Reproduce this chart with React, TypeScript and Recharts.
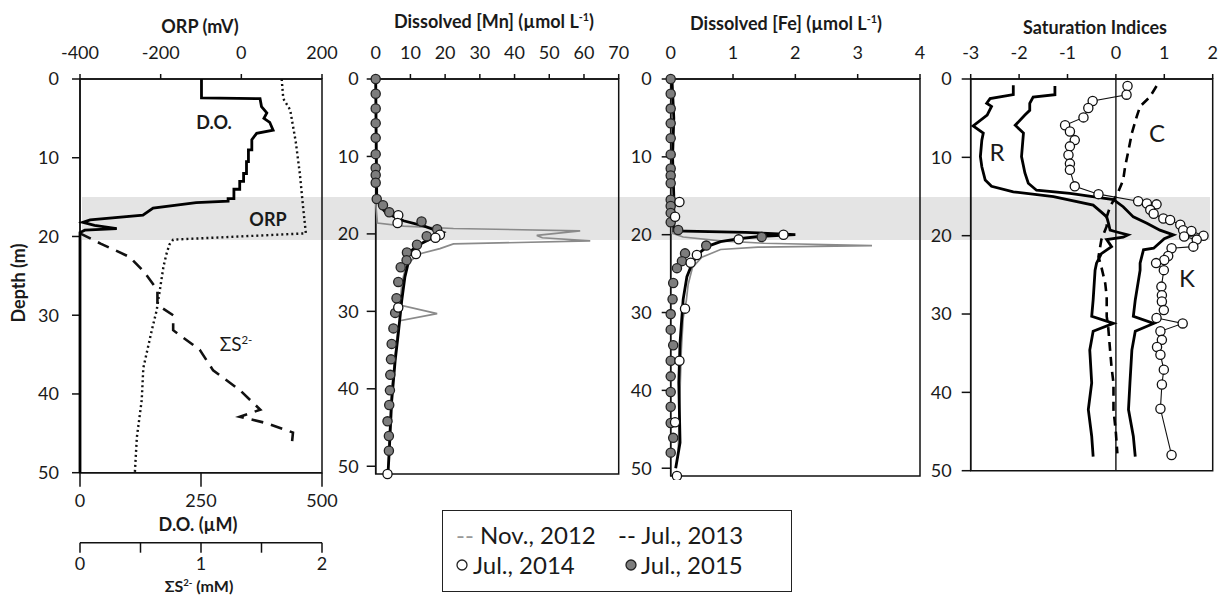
import React from "react";
import {
  ComposedChart,
  Scatter,
  XAxis,
  YAxis,
  ReferenceArea,
  ReferenceLine,
} from "recharts";

const FONT = "Lato, 'Open Sans', sans-serif";
const INK = "#1a1a1a";

// ---- panel 1: D.O. (uM), ORP (mV), sulfide (mM) vs depth (m)
const doDepth = [0, 2.4, 2.5, 3.5, 4.3, 5.0, 5.5, 6.5, 6.9, 7.7, 9.0, 9.0, 10.5, 10.5, 12.0, 12.0, 13.0, 13.0, 14.0, 14.0, 15.2, 15.2, 15.5, 15.7, 16.4, 17.3, 17.9, 18.2, 18.6, 19.0, 19.2, 19.5, 50];
const doValue = [251, 251, 372, 375, 386, 380, 392, 399, 365, 355, 355, 348, 348, 344, 344, 338, 338, 330, 330, 318, 318, 306, 306, 240, 151, 130, 21, 6, 30, 76, 10, 0, 0];
const orpDepth = [0, 2.5, 3.9, 8, 12, 16.2, 19.6, 20.4, 21.0, 22.1, 23.8, 26.8, 29.4, 31.9, 36.7, 40.8, 45.5, 50];
const orpValue = [100, 104, 121, 135, 145, 153, 160, -169, -178, -185, -193, -202, -210, -222, -243, -247, -259, -264];
const sDepth = [19.6, 20.9, 22.6, 24.5, 26.8, 28.7, 30, 31.9, 34.4, 37, 39.5, 42, 42.9, 43.7, 44.9, 46.5];
const sValue = [0, 0.17, 0.41, 0.53, 0.64, 0.64, 0.77, 0.77, 0.99, 1.1, 1.32, 1.49, 1.32, 1.54, 1.76, 1.75];

// ---- panels 2 & 3: dissolved Mn and Fe (umol/L)
const depth2015 = [0, 1.9, 3.8, 5.7, 7.6, 9.7, 11.5, 12.4, 13.4, 15.5, 16.3, 17.2, 18.4, 19.4, 20.3, 21.4, 22.4, 23.4, 24.3, 26.2, 28.3, 30.2, 32.2, 34.2, 36.2, 38.2, 40.2, 42.1, 44.2, 46.1, 48];
const mn2015 = [0, 0, 0, 0, 0, 0, 0, 0, 0, 0.3, 2.1, 3.9, 13.2, 17.7, 14.7, 11.9, 9.0, 8.9, 7.2, 6.5, 6.0, 5.6, 5.1, 4.6, 4.4, 4.2, 4.1, 3.9, 3.4, 3.8, 3.8];
const fe2015 = [0, 0, 0, 0, 0, 0, 0, 0, 0, 0, 0, 0, 0, 0.12, 1.46, 0.57, 0.23, 0.18, 0.1, 0.04, 0.03, 0, 0, 0.04, 0, 0, 0, 0, 0, 0.04, 0];

const mn2014Depth = [17.6, 18.6, 20.1, 20.5, 22.6, 29.5, 51];
const mn2014 = [6.5, 6.3, 18.5, 17.2, 11.6, 6.5, 3.4];
const fe2014Depth = [15.8, 17.7, 20.0, 20.6, 22.6, 23.6, 29.5, 36.2, 44.1, 51];
const fe2014 = [0.14, 0.07, 1.81, 1.09, 0.42, 0.32, 0.23, 0.14, 0.07, 0.1];

const mn2013Depth = [0, 15.5, 16.5, 17.3, 18.3, 19.0, 19.5, 19.8, 20.3, 20.7, 21.5, 22.5, 23.9, 25.6, 28.6, 32.9, 36.4, 41.6, 48.1, 50.5];
const mn2013 = [0, 0.3, 1.5, 3, 8, 14, 17, 19.4, 17.5, 15.6, 12, 9.5, 9.3, 8.4, 7.5, 6.5, 5.6, 4.6, 3.9, 3.6];
const fe2013Depth = [0, 5, 10, 15, 19.5, 19.7, 20.0, 20.2, 20.5, 20.9, 21.5, 22.4, 23.6, 25.4, 28.3, 33.9, 39, 46.7, 50];
const fe2013 = [0.02, 0.05, 0.03, 0.05, 0.05, 1.2, 2.0, 1.46, 1.1, 0.8, 0.59, 0.45, 0.35, 0.26, 0.2, 0.15, 0.13, 0.15, 0.08];

const mn2012Depth = [16, 18.6, 19.0, 19.3, 19.6, 20.2, 20.5, 20.9, 21.3, 21.9, 22.6, 23.5, 24.5, 26.5, 29.2, 30.3, 31.2, 33, 36, 40, 45, 50];
const mn2012 = [0, 0.5, 8, 22.4, 58.9, 46.4, 48, 61.8, 22.4, 18.5, 12.5, 10, 8.5, 7.5, 7, 17.7, 7, 6.2, 5.5, 4.6, 4, 3.6];
const fe2012Depth = [15, 19.8, 20.3, 20.8, 21.1, 21.4, 21.6, 21.9, 22.9, 24.2, 26.4, 28.5, 30.7, 34.9, 40, 47.7];
const fe2012 = [0, 0.02, 0.2, 0.8, 1.5, 3.23, 1.4, 0.8, 0.5, 0.35, 0.28, 0.25, 0.2, 0.17, 0.15, 0.12];

// ---- panel 4: saturation indices
const rDepth = [0.8, 2.0, 2.5, 3.1, 3.5, 4.6, 6.0, 6.9, 7.8, 9.9, 11.2, 12.9, 13.7, 14.4, 15.0, 16.1, 17.0, 17.6, 18.5, 19.3, 19.5, 19.9, 20.2, 20.5, 21.4, 22.3, 23.5, 24.4, 28.2, 30.3, 31.2, 32.2, 34.6, 38.8, 42.2, 45.6, 48.2];
const rValue = [-2.12, -2.12, -2.6, -2.67, -2.57, -2.66, -2.95, -2.74, -2.77, -2.8, -2.77, -2.7, -2.57, -2.12, -1.29, -0.47, -0.3, -0.19, -0.15, -0.12, 0, 0.25, 0.15, -0.19, -0.09, -0.3, -0.4, -0.43, -0.47, -0.5, -0.05, -0.47, -0.54, -0.5, -0.57, -0.5, -0.47];
const r2Depth = [0.9, 2.0, 2.3, 3.1, 4.0, 4.6, 5.9, 6.9, 9.9, 12.0, 13.3, 14.2, 14.6, 15.4, 16.3, 17.6, 18.4, 19.3, 19.9, 20.4, 21.6, 21.8, 23.5, 24.4, 28.2, 30.3, 31.2, 32.2, 34.6, 38.8, 42.2, 45.6, 48.2];
const r2Value = [-1.26, -1.26, -1.71, -1.78, -1.78, -1.88, -2.08, -1.91, -1.95, -1.88, -1.81, -1.64, -0.95, -0.05, 0.15, 0.36, 0.64, 0.91, 1.19, 1.0, 0.78, 0.57, 0.5, 0.5, 0.4, 0.36, 0.78, 0.4, 0.33, 0.29, 0.26, 0.36, 0.4];
const cDepth = [0.9, 2.3, 3.5, 4.8, 6.9, 9.1, 11.2, 12.9, 14.4, 16.3, 17.6, 18.8, 20.5, 22.7, 24, 26.1, 27.8, 30.3, 31.6, 34.6, 36.8, 38.8, 42.2, 45.2, 47.8];
const cValue = [0.84, 0.7, 0.5, 0.43, 0.33, 0.26, 0.19, 0.15, 0.05, -0.12, -0.19, -0.19, -0.3, -0.36, -0.3, -0.22, -0.19, -0.19, -0.16, -0.12, -0.09, -0.05, -0.05, 0, 0.03];
const kDepth = [0.9, 2.0, 2.8, 3.7, 4.9, 5.9, 6.7, 7.8, 8.6, 9.7, 10.8, 11.6, 13.7, 14.7, 15.6, 15.9, 16.0, 16.7, 17.2, 17.8, 18.0, 18.6, 19.3, 19.4, 20.0, 20.1, 20.5, 21.4, 21.6, 22.6, 23.1, 23.5, 24.4, 26.5, 27.6, 28.4, 29.5, 30.5, 31.2, 32.2, 33.3, 34.2, 35.2, 37.1, 39.0, 42.1, 48.0];
const kValue = [0.24, 0.22, -0.48, -0.57, -0.67, -1.05, -0.95, -0.85, -0.95, -0.98, -0.95, -0.95, -0.85, -0.36, 0.46, 0.64, 0.84, 0.71, 0.78, 0.98, 1.12, 1.33, 1.39, 1.56, 1.81, 1.41, 1.67, 1.6, 1.15, 1.08, 1.0, 0.83, 0.99, 0.94, 0.95, 0.95, 0.99, 0.84, 1.38, 0.92, 0.95, 0.85, 0.92, 0.99, 0.95, 0.92, 1.15];

// ---- tick labels
const depthTicks = [0, 10, 20, 30, 40, 50];
const orpTicks = [-400, -200, 0, 200];
const doTicks = [0, 250, 500];
const sTicks = [0, 0.5, 1, 1.5, 2];
const mnTicks = [0, 10, 20, 30, 40, 50, 60, 70];
const feTicks = [0, 1, 2, 3, 4];
const siTicks = [-3, -2, -1, 0, 1, 2];

const pts = (depth: number[], vals: number[]) =>
  depth.map((d, i) => ({ x: vals[i], y: d }));

const NoDot = () => <g />;
const OpenDot = (p: any) => (
  <circle cx={p.cx} cy={p.cy} r={4.6} fill="#fff" stroke="#111" strokeWidth={1.3} />
);
const FillDot = (p: any) => (
  <circle cx={p.cx} cy={p.cy} r={4.6} fill="#7d7d7d" stroke="#222" strokeWidth={1.3} />
);

const tick = { fontSize: 18, fill: INK, fontFamily: FONT };
const axisStroke = { stroke: "#111", strokeWidth: 1.5 };

const depthAxis = (domainMax: number, width: number, tickSize: number, tickMargin: number) => (
  <YAxis
    type="number"
    dataKey="y"
    domain={[0, domainMax]}
    reversed
    ticks={depthTicks}
    interval={0}
    width={width}
    tickSize={tickSize}
    tickMargin={tickMargin}
    tick={tick}
    axisLine={axisStroke}
    tickLine={axisStroke}
  />
);

function OxygenPanel() {
  return (
    <ComposedChart width={345} height={595} margin={{ top: 49, right: 23, bottom: 0, left: 0 }}>
      <XAxis xAxisId="orp" orientation="top" type="number" dataKey="x" domain={[-400, 200]} ticks={orpTicks} interval={0} height={30} tickSize={5} tickMargin={15} tick={tick} axisLine={axisStroke} tickLine={axisStroke} />
      <XAxis xAxisId="do" orientation="bottom" type="number" dataKey="x" domain={[0, 500]} ticks={doTicks} interval={0} height={70} tickSize={14} tickMargin={8} tick={tick} axisLine={axisStroke} tickLine={axisStroke} />
      <XAxis xAxisId="s" orientation="bottom" type="number" dataKey="x" domain={[0, 2]} ticks={sTicks} interval={0} height={52.3} tickSize={10} tickMargin={5} tick={tick} axisLine={axisStroke} tickLine={axisStroke} tickFormatter={(v: number) => (Number.isInteger(v) ? String(v) : "")} />
      {depthAxis(50, 80, 8, 13)}
      <ReferenceArea xAxisId="orp" x1={-400} x2={200} y1={0} y2={50} fill="none" stroke="#111" strokeWidth={1.5} />
      <Scatter xAxisId="orp" data={pts(orpDepth, orpValue)} line={{ stroke: "#111", strokeWidth: 2.4, strokeDasharray: "2 3" }} shape={NoDot} isAnimationActive={false} />
      <Scatter xAxisId="s" data={pts(sDepth, sValue)} line={{ stroke: "#111", strokeWidth: 2.6, strokeDasharray: "12 8" }} shape={NoDot} isAnimationActive={false} />
      <Scatter xAxisId="do" data={pts(doDepth, doValue)} line={{ stroke: "#000", strokeWidth: 2.8 }} shape={NoDot} isAnimationActive={false} />
    </ComposedChart>
  );
}

function MetalPanel(props: {
  width: number;
  right: number;
  bottom: number;
  max: number;
  ticks: number[];
  tickMargin: number;
  d2012: { x: number; y: number }[];
  d2013: { x: number; y: number }[];
  d2014: { x: number; y: number }[];
  d2015: { x: number; y: number }[];
}) {
  return (
    <ComposedChart width={props.width} height={480} margin={{ top: 49, right: props.right, bottom: props.bottom, left: 0 }}>
      <XAxis orientation="top" type="number" dataKey="x" domain={[0, props.max]} ticks={props.ticks} interval={0} height={30} tickSize={5} tickMargin={15} tick={tick} axisLine={axisStroke} tickLine={axisStroke} />
      {depthAxis(51, 45.7, 9, props.tickMargin)}
      <ReferenceArea x1={0} x2={props.max} y1={0} y2={51} fill="none" stroke="#111" strokeWidth={1.5} />
      <Scatter data={props.d2012} line={{ stroke: "#8a8a8a", strokeWidth: 1.7 }} shape={NoDot} isAnimationActive={false} />
      <Scatter data={props.d2013} line={{ stroke: "#000", strokeWidth: 2.8 }} shape={NoDot} isAnimationActive={false} />
      <Scatter data={props.d2015} shape={FillDot} isAnimationActive={false} />
      <Scatter data={props.d2014} shape={OpenDot} isAnimationActive={false} />
    </ComposedChart>
  );
}

function SaturationPanel() {
  return (
    <ComposedChart width={295} height={480} margin={{ top: 49, right: 7.3, bottom: 9.3, left: 0 }}>
      <XAxis orientation="top" type="number" dataKey="x" domain={[-3, 2]} ticks={siTicks} interval={0} height={30} tickSize={5} tickMargin={15} tick={tick} axisLine={axisStroke} tickLine={axisStroke} />
      {depthAxis(50, 45.7, 9, 10)}
      <ReferenceArea x1={-3} x2={2} y1={0} y2={50} fill="none" stroke="#111" strokeWidth={1.5} />
      <ReferenceLine x={0} stroke="#111" strokeWidth={1.4} />
      <Scatter data={pts(cDepth, cValue)} line={{ stroke: "#000", strokeWidth: 2.6, strokeDasharray: "9 6" }} shape={NoDot} isAnimationActive={false} />
      <Scatter data={pts(rDepth, rValue)} line={{ stroke: "#000", strokeWidth: 2.8 }} shape={NoDot} isAnimationActive={false} />
      <Scatter data={pts(r2Depth, r2Value)} line={{ stroke: "#000", strokeWidth: 2.8 }} shape={NoDot} isAnimationActive={false} />
      <Scatter data={pts(kDepth, kValue)} line={{ stroke: "#111", strokeWidth: 1.1 }} shape={OpenDot} isAnimationActive={false} />
    </ComposedChart>
  );
}

const Txt = (p: { x: number; y: number; size: number; bold?: boolean; rotate?: boolean; color?: string; children: React.ReactNode }) => (
  <div
    style={{
      position: "absolute",
      left: p.x,
      top: p.y,
      transform: `translate(-50%, -50%)${p.rotate ? " rotate(-90deg)" : ""}`,
      fontSize: p.size,
      fontWeight: p.bold ? 700 : 400,
      color: p.color || INK,
      whiteSpace: "nowrap",
      lineHeight: 1,
    }}
  >
    {p.children}
  </div>
);

const sup = { fontSize: "0.6em", position: "relative", top: "-0.65em" } as const;

export default function App() {
  return (
    <div
      style={{
        position: "absolute",
        left: 0,
        top: 0,
        width: 1220,
        height: 595,
        background: "#fff",
        fontFamily: FONT,
        color: INK,
        overflow: "hidden",
      }}
    >
      {/* shaded chemocline band */}
      <div style={{ position: "absolute", left: 82, top: 197, width: 1128, height: 43, background: "#e4e4e4" }} />

      <div style={{ position: "absolute", left: 0, top: 0 }}>
        <OxygenPanel />
      </div>
      <div style={{ position: "absolute", left: 330, top: 0 }}>
        <MetalPanel width={305} right={16.3} bottom={6} max={70} ticks={mnTicks} tickMargin={8}
          d2012={pts(mn2012Depth, mn2012)} d2013={pts(mn2013Depth, mn2013)}
          d2014={pts(mn2014Depth, mn2014)} d2015={pts(depth2015, mn2015)} />
      </div>
      <div style={{ position: "absolute", left: 625, top: 0 }}>
        <MetalPanel width={310} right={15} bottom={4} max={4} ticks={feTicks} tickMargin={10}
          d2012={pts(fe2012Depth, fe2012)} d2013={pts(fe2013Depth, fe2013)}
          d2014={pts(fe2014Depth, fe2014)} d2015={pts(depth2015, fe2015)} />
      </div>
      <div style={{ position: "absolute", left: 925, top: 0 }}>
        <SaturationPanel />
      </div>

      {/* titles */}
      <Txt x={200} y={26} size={18} bold>ORP (mV)</Txt>
      <Txt x={494} y={21} size={18} bold>Dissolved [Mn] (µmol L<span style={sup}>-1</span>)</Txt>
      <Txt x={786} y={23} size={18} bold>Dissolved [Fe] (µmol L<span style={sup}>-1</span>)</Txt>
      <Txt x={1095} y={27} size={18} bold>Saturation Indices</Txt>
      <Txt x={18} y={283} size={18} bold rotate>Depth (m)</Txt>
      <Txt x={198} y={524} size={18} bold>D.O. (µM)</Txt>
      <Txt x={199} y={586} size={16} bold>ΣS<span style={sup}>2-</span> (mM)</Txt>

      {/* in-plot annotations */}
      <Txt x={214} y={122} size={18} bold>D.O.</Txt>
      <Txt x={268} y={219} size={18} bold>ORP</Txt>
      <Txt x={236} y={343} size={19}>ΣS<span style={sup}>2-</span></Txt>
      <Txt x={997} y={152} size={24}>R</Txt>
      <Txt x={1157} y={133} size={24}>C</Txt>
      <Txt x={1187} y={278} size={24}>K</Txt>

      {/* legend */}
      <div style={{ position: "absolute", left: 442, top: 510, width: 350, height: 82, border: "1.5px solid #222", boxSizing: "border-box" }} />
      <div style={{ position: "absolute", left: 456, top: 521, fontSize: 24, lineHeight: "28px", whiteSpace: "nowrap" }}>
        <span style={{ color: "#999" }}>--</span> Nov., 2012
      </div>
      <div style={{ position: "absolute", left: 618, top: 521, fontSize: 24, lineHeight: "28px", whiteSpace: "nowrap" }}>
        <span style={{ color: "#111" }}>--</span> Jul., 2013
      </div>
      <svg style={{ position: "absolute", left: 455, top: 558 }} width={14} height={14}>
        <circle cx={7} cy={7} r={5} fill="#fff" stroke="#222" strokeWidth={1.3} />
      </svg>
      <div style={{ position: "absolute", left: 473, top: 551, fontSize: 24, lineHeight: "28px", whiteSpace: "nowrap" }}>
        Jul., 2014
      </div>
      <svg style={{ position: "absolute", left: 624, top: 558 }} width={14} height={14}>
        <circle cx={7} cy={7} r={5} fill="#7d7d7d" stroke="#222" strokeWidth={1.3} />
      </svg>
      <div style={{ position: "absolute", left: 641, top: 551, fontSize: 24, lineHeight: "28px", whiteSpace: "nowrap" }}>
        Jul., 2015
      </div>
    </div>
  );
}
